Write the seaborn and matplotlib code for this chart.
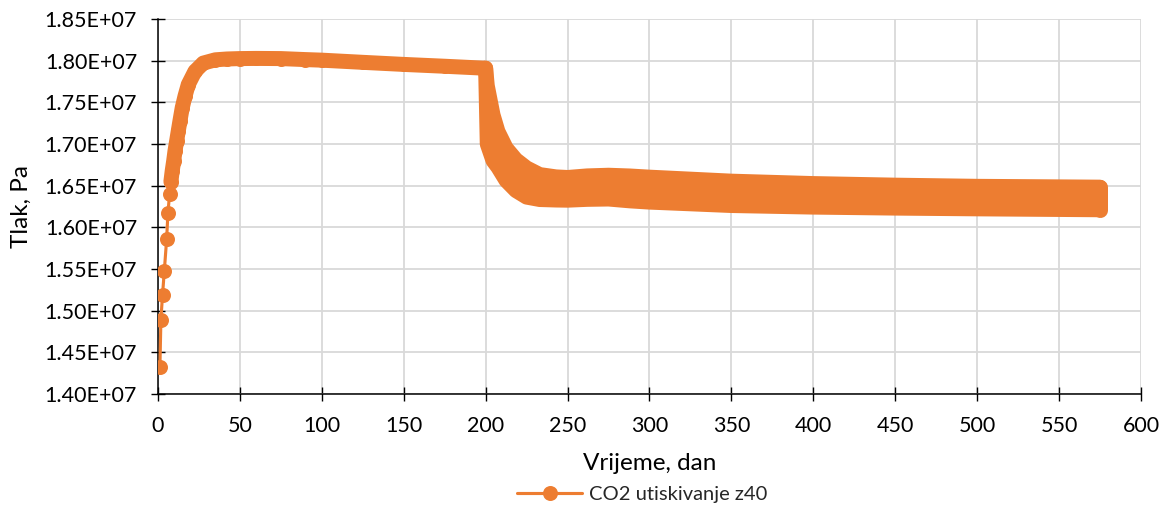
import numpy as np
import pandas as pd
import seaborn as sns
import matplotlib.pyplot as plt
from matplotlib.ticker import MultipleLocator, FuncFormatter

# porast tlaka i plato do 200. dana (dan, Pa)
rise_day = [1.2, 1.8, 2.8, 3.9, 5.3, 6.1, 7.1, 7.9, 8.7, 9.6, 10.4, 11.4, 12.4, 13.4,
            14.8, 16.5, 18.5, 22.6, 27.7, 35, 42, 50, 60, 75, 90, 100, 125, 150, 175, 199]
rise_p = [1.4326e7, 1.4893e7, 1.5191e7, 1.5482e7, 1.5856e7, 1.6175e7, 1.6398e7, 1.6549e7,
          1.6677e7, 1.6796e7, 1.6916e7, 1.7035e7, 1.7155e7, 1.7274e7, 1.7433e7, 1.7573e7,
          1.7713e7, 1.7872e7, 1.7971e7, 1.8010e7, 1.8020e7, 1.8025e7, 1.8027e7, 1.8025e7,
          1.8013e7, 1.8006e7, 1.7980e7, 1.7955e7, 1.7933e7, 1.7910e7]

# nakon 200. dana tlak oscilira -> gornja i donja ovojnica
band_day = [200, 201, 204.5, 207.5, 212.5, 218.5, 225, 233, 243, 250, 262, 275, 288, 300,
            350, 400, 450, 500, 575]
band_upper = [1.7910e7, 1.7700e7, 1.7350e7, 1.7151e7, 1.6952e7, 1.6812e7, 1.6713e7,
              1.6633e7, 1.6605e7, 1.6598e7, 1.6617e7, 1.6625e7, 1.6616e7, 1.6602e7,
              1.6554e7, 1.6525e7, 1.6506e7, 1.6492e7, 1.6482e7]
band_lower = [1.7910e7, 1.7000e7, 1.6800e7, 1.6721e7, 1.6561e7, 1.6441e7, 1.6363e7,
              1.6334e7, 1.6328e7, 1.6326e7, 1.6336e7, 1.6340e7, 1.6318e7, 1.6303e7,
              1.6262e7, 1.6243e7, 1.6231e7, 1.6222e7, 1.6211e7]

orange = '#ED7D31'

sns.set_theme(style='whitegrid', rc={'grid.color': '#D9D9D9', 'grid.linewidth': 1.3,
                                     'axes.edgecolor': 'black'})
plt.rcParams['font.family'] = ['Lato', 'DejaVu Sans']

fig, ax = plt.subplots(figsize=(11.7, 5.08), dpi=100)
fig.subplots_adjust(left=0.135, right=0.9752, bottom=0.2244, top=0.9626)

df = pd.DataFrame({'dan': rise_day, 'tlak': rise_p})
thick = dict(color=orange, lw=10.8, solid_capstyle='round', solid_joinstyle='round')

# gusti markeri se stapaju u debelu liniju
sns.lineplot(data=df[df['dan'] >= 7.9], x='dan', y='tlak', ax=ax, legend=False, **thick)
sns.lineplot(data=df, x='dan', y='tlak', ax=ax, color=orange, lw=2.25, marker='o',
             markersize=10.8, markeredgecolor=orange, markeredgewidth=0,
             label='CO2 utiskivanje z40')

ax.fill_between(band_day, band_lower, band_upper, color=orange, lw=0)
sns.lineplot(x=band_day, y=band_upper, ax=ax, legend=False, **thick)
sns.lineplot(x=band_day, y=band_lower, ax=ax, legend=False, **thick)
ax.plot([band_day[-1]] * 2, [band_lower[-1], band_upper[-1]], **thick)

ax.set_xlim(0, 600)
ax.set_ylim(1.40e7, 1.85e7)
ax.xaxis.set_major_locator(MultipleLocator(50))
ax.yaxis.set_major_locator(MultipleLocator(0.05e7))
ax.yaxis.set_major_formatter(FuncFormatter(lambda v, p: f'{v:.2E}'))
ax.tick_params(direction='inout', length=10, width=1, color='black', labelsize=15.5,
               labelcolor='black')
ax.tick_params(axis='x', pad=11)
ax.tick_params(axis='y', pad=10)
ax.tick_params(left=True, bottom=True)
for s in ['top', 'right']:
    ax.spines[s].set_visible(False)
for s in ['left', 'bottom']:
    ax.spines[s].set_linewidth(1.1)
    ax.spines[s].set_zorder(1.5)

ax.set_xlabel('Vrijeme, dan', fontsize=17.5, color='black', labelpad=12)
ax.set_ylabel('Tlak, Pa', fontsize=17.5, color='black', labelpad=9)

ax.get_legend().remove()
h, l = ax.get_legend_handles_labels()
fig.legend(h, l, loc='center', bbox_to_anchor=(0.549, 0.027), frameon=False,
           fontsize=14.5, handlelength=3.2, handletextpad=0.35)

fig.savefig('out.png', dpi=100)
